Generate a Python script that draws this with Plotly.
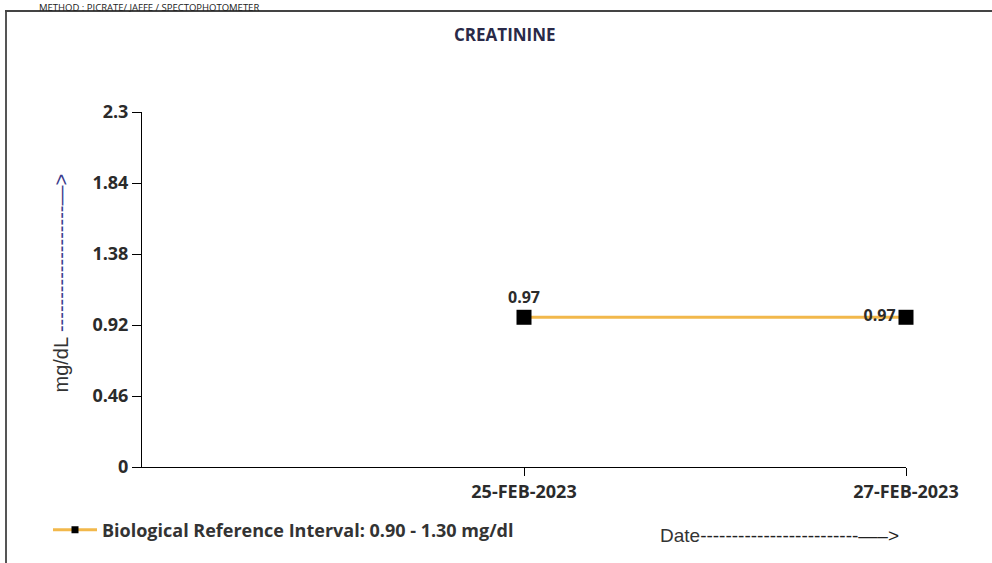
import plotly.graph_objects as go

# ---- data ----
dates = ["25-FEB-2023", "27-FEB-2023"]
x_pos = [1, 2]
values = [0.97, 0.97]
value_labels = ["0.97", "0.97"]
y_ticks = [0, 0.46, 0.92, 1.38, 1.84, 2.3]
y_tick_labels = ["0", "0.46", "0.92", "1.38", "1.84", "2.3"]
legend_name = "Biological Reference Interval: 0.90 - 1.30 mg/dl"
chart_title = "CREATININE"
method_text = "METHOD : PICRATE/ JAFFE / SPECTOPHOTOMETER"
x_axis_title = "Date"
y_axis_title = "mg/dL"

W, H = 992, 563
L, R, T, B = 142, 86, 112, 96
PW, PH = W - L - R, H - T - B


def px(x):
    return (x - L) / PW


def py(y):
    return (H - B - y) / PH


LINE_COLOR = "#F2B84B"
TXT = "#2b2b2b"
BOLD_FONT = "Open Sans"

fig = go.Figure()
fig.add_trace(go.Scatter(
    x=x_pos, y=values, mode="lines+markers+text",
    line=dict(color=LINE_COLOR, width=3),
    marker=dict(symbol="square", size=15, color="black"),
    text=value_labels, textposition=["top center", "middle left"],
    textfont=dict(family=BOLD_FONT, size=16, color=TXT, weight="bold"),
    cliponaxis=False, showlegend=False, hoverinfo="skip",
))
# legend entry (no data)
fig.add_trace(go.Scatter(
    x=[None], y=[None], mode="lines+markers", name=legend_name,
    line=dict(color=LINE_COLOR, width=3),
    marker=dict(symbol="square", size=7, color="black"),
    showlegend=True,
))

fig.update_layout(
    width=W, height=H,
    margin=dict(l=L, r=R, t=T, b=B, pad=0),
    paper_bgcolor="white", plot_bgcolor="white",
    xaxis=dict(range=[0, 2], tickvals=x_pos, ticktext=dates,
               showline=True, linecolor="black", linewidth=1,
               ticks="outside", ticklen=8, tickcolor="black",
               showgrid=False, zeroline=False,
               tickfont=dict(family=BOLD_FONT, size=18, color=TXT, weight="bold")),
    yaxis=dict(range=[0, 2.3], tickvals=y_ticks, ticktext=y_tick_labels,
               showline=True, linecolor="black", linewidth=1,
               ticks="outside", ticklen=9, tickcolor="black",
               showgrid=False, zeroline=False,
               tickfont=dict(family=BOLD_FONT, size=18, color=TXT, weight="bold")),
    legend=dict(orientation="h", x=px(48), y=py(530), xanchor="left", yanchor="middle",
                font=dict(family=BOLD_FONT, size=18, color="#333", weight="bold"),
                itemwidth=44, bgcolor="rgba(0,0,0,0)"),
    showlegend=True,
)

annotations = [
    dict(text=chart_title, x=px(505), y=py(34), xref="paper", yref="paper",
         xanchor="center", yanchor="middle",
         showarrow=False, font=dict(family=BOLD_FONT, size=17, color="#2a2a48", weight="bold")),
    dict(text=method_text, x=px(38), y=py(0), xref="paper", yref="paper",
         xanchor="left", yanchor="top", showarrow=False, borderpad=0,
         font=dict(family="Open Sans", size=9.5, color="#222")),
    dict(text=x_axis_title + "<span style='color:#222'>" + "-" * 25 + "—–&gt;</span>",
         x=px(658), y=py(535), xref="paper", yref="paper", showarrow=False,
         xanchor="left", yanchor="middle",
         font=dict(family="Liberation Sans", size=19, color="#333")),
    dict(text=y_axis_title + " <span style='color:#3b3b8c'>" + "-" * 19 + "—&gt;</span>",
         x=px(60), y=py(395), xref="paper", yref="paper", showarrow=False, textangle=-90,
         xanchor="center", yanchor="bottom",
         font=dict(family="Liberation Sans", size=20, color="#333")),
]
fig.update_layout(annotations=annotations)

shapes = [
    dict(type="line", xref="paper", yref="paper", x0=px(6), x1=px(6), y0=py(11), y1=py(570),
         line=dict(color="#555", width=2)),
    dict(type="line", xref="paper", yref="paper", x0=px(5), x1=px(1000), y0=py(11), y1=py(11),
         line=dict(color="#444", width=2)),
]
fig.update_layout(shapes=shapes)

fig.write_html("out.html", config={"displayModeBar": False},
               post_script="document.body.style.margin='0';document.body.style.overflow='hidden';")
